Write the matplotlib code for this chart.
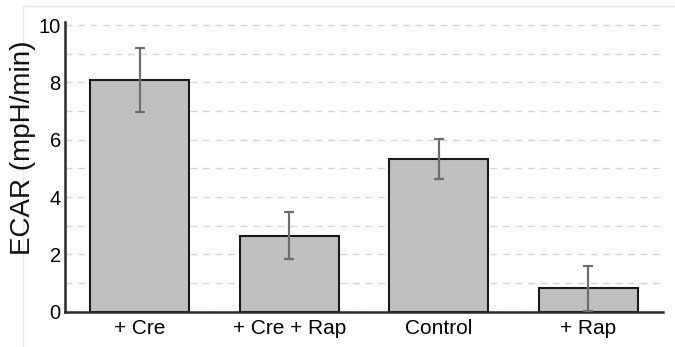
import matplotlib
matplotlib.use("Agg")
import matplotlib.pyplot as plt
from matplotlib.lines import Line2D
import numpy as np

plt.rcParams['font.family'] = ['Liberation Sans', 'DejaVu Sans']

categories = ["+ Cre", "+ Cre + Rap", "Control", "+ Rap"]
ecar_mean = [8.08, 2.65, 5.33, 0.81]
ecar_err = [1.13, 0.82, 0.70, 0.77]
y_ticks = [0, 2, 4, 6, 8, 10]

W, H = 675, 347
fig = plt.figure(figsize=(W / 100, H / 100), dpi=100)
ax = fig.add_axes([0.0963, 0.1017, 0.8857, 0.8343])

x = np.arange(len(categories))
ax.bar(x, ecar_mean, width=0.663, color="#c0c0c0", edgecolor="#1a1a1a",
       linewidth=1.5, zorder=2)
ax.errorbar(x, ecar_mean, yerr=ecar_err, fmt="none", ecolor="#6e6e6e",
            elinewidth=1.6, capsize=3.6, capthick=1.6, zorder=3)

ax.set_xlim(-0.5, 3.5)
ax.set_ylim(0, 10.1)
ax.set_yticks(y_ticks)
ax.set_yticks(np.arange(1, 11), minor=True)
ax.set_xticks(x)
ax.set_xticklabels(categories, fontsize=15)
ax.tick_params(axis="y", labelsize=14.5, length=0, pad=3)
ax.tick_params(axis="y", which="minor", length=0)
ax.tick_params(axis="x", length=0, pad=5)

# y-axis title, placed a little above the axis midpoint
fig.text(23.5 / W, 1 - 147.5 / H, "ECAR (mpH/min)", fontsize=20,
         rotation=90, ha="center", va="center", color="#111111")

ax.yaxis.grid(True, which="both", linestyle=(0, (5, 4)), color="#d6d6d6",
              linewidth=1.0, zorder=0)
ax.set_axisbelow(True)

for side in ("top", "right"):
    ax.spines[side].set_visible(False)
for side in ("left", "bottom"):
    ax.spines[side].set_color("#2a2a2a")
    ax.spines[side].set_linewidth(1.8)

# thin outer frame along the top and left of the figure
fx = 22.5 / W
fy = 1 - 5.5 / H
fig.add_artist(Line2D([fx, 1], [fy, fy], transform=fig.transFigure,
                      color="#e6e6e6", linewidth=1.0, zorder=0))
fig.add_artist(Line2D([fx, fx], [0, fy], transform=fig.transFigure,
                      color="#e6e6e6", linewidth=1.0, zorder=0))

fig.savefig("out.png", dpi=100)
